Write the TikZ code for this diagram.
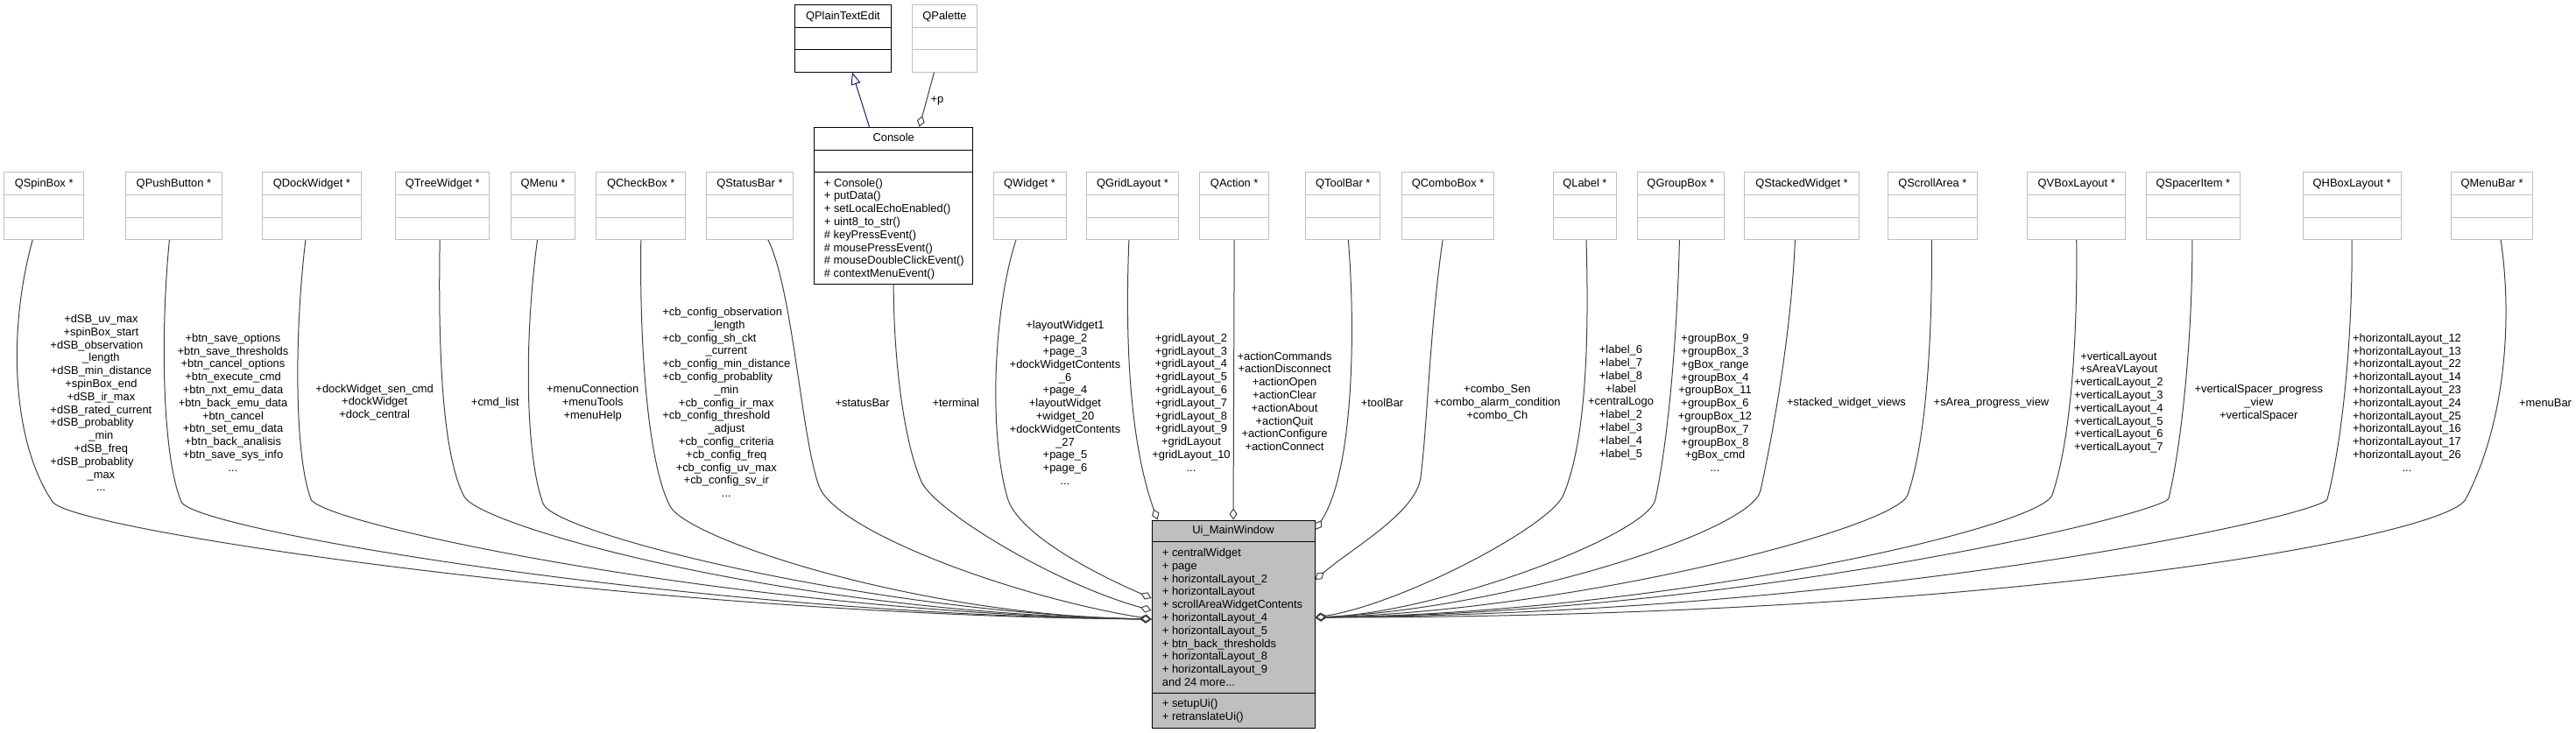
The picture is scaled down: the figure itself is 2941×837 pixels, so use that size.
\documentclass[tikz,border=0pt]{standalone}
\usepackage{fontspec}
\setmainfont{Liberation Sans}
\usepackage{tikz}
\usetikzlibrary{arrows.meta}
\definecolor{boxgray}{HTML}{BFBFBF}
\definecolor{edgegray}{HTML}{404040}
\definecolor{uigray}{HTML}{BFBFBF}
\definecolor{navyline}{HTML}{191970}
\newcommand{\leftln}[1]{\multicolumn{1}{@{}l@{}}{#1}}
\tikzstyle{qclass}  = [draw=boxgray, line width=1pt, inner xsep=0pt, inner ysep=0pt, text height=16.8pt, text depth=59.7pt,
                       path picture={\draw[boxgray, line width=1pt] ([yshift=-25.5pt]path picture bounding box.north west) -- ([yshift=-25.5pt]path picture bounding box.north east)
                                     ([yshift=25.5pt]path picture bounding box.south west) -- ([yshift=25.5pt]path picture bounding box.south east);}]
\tikzstyle{dclass}  = [draw=black, line width=1pt, inner xsep=0pt, inner ysep=0pt, text height=16.4pt, text depth=59.9pt,
                       path picture={\draw[black, line width=1pt] ([yshift=-25.5pt]path picture bounding box.north west) -- ([yshift=-25.5pt]path picture bounding box.north east)
                                     ([yshift=25.5pt]path picture bounding box.south west) -- ([yshift=25.5pt]path picture bounding box.south east);}]
\tikzstyle{members} = [inner sep=0pt, anchor=north west]
\tikzstyle{lbl}     = [inner sep=0pt]
\tikzstyle{agg}     = [draw=edgegray, line width=1pt, -{Diamond[open, length=13pt, width=9pt]}]
\tikzstyle{inherit} = [draw=navyline, line width=1pt, -{Triangle[open, length=14pt, width=11pt]}]

\begin{document}
\begin{tikzpicture}[x=1pt, y=-1pt, font=\fontsize{12.9}{14.8}\selectfont]
	\useasboundingbox (0,0) rectangle (2941,837);

	% top row of classes
	\node[dclass, minimum width=109.3] (plaintext) at (962.4,43.9) {QPlainTextEdit};
	\node[qclass, minimum width=73.7] (palette) at (1078.5,43.9) {QPalette};

	\node[draw=black, line width=1pt, inner xsep=0pt, inner ysep=0pt, minimum width=181.3, text height=16.6pt, text depth=162.4pt] (console) at (1020.2,234.8) {Console};
	\draw[line width=1pt] ([yshift=-26.4pt]console.north west) -- ([yshift=-26.4pt]console.north east);
	\draw[line width=1pt] ([yshift=-51.4pt]console.north west) -- ([yshift=-51.4pt]console.north east);
	\node[members] (consolem) at (940.7,202.6) {\begin{tabular}{@{}l@{}}
		+ Console()\\ + putData()\\ + setLocalEchoEnabled()\\ + uint8\_to\_str()\\
		\# keyPressEvent()\\ \# mousePressEvent()\\ \# mouseDoubleClickEvent()\\ \# contextMenuEvent()\end{tabular}};

	% member classes
	\node[qclass, minimum width=91.1] (spinbox) at (50.2,235.25) {QSpinBox *};
	\node[qclass, minimum width=109.8] (pushbutton) at (198.4,235.25) {QPushButton *};
	\node[qclass, minimum width=112.6] (dockwidget) at (355.9,235.25) {QDockWidget *};
	\node[qclass, minimum width=107.1] (treewidget) at (505.2,235.25) {QTreeWidget *};
	\node[qclass, minimum width=73.7] (qmenu) at (620,235.25) {QMenu *};
	\node[qclass, minimum width=101.8] (checkbox) at (731.8,235.25) {QCheckBox *};
	\node[qclass, minimum width=99.1] (statusbar) at (855.9,235.25) {QStatusBar *};
	\node[qclass, minimum width=83] (widget) at (1175.5,235.25) {QWidget *};
	\node[qclass, minimum width=104.4] (gridlayout) at (1292.9,235.25) {QGridLayout *};
	\node[qclass, minimum width=79.1] (action) at (1409.2,235.25) {QAction *};
	\node[qclass, minimum width=85.3] (toolbar) at (1533.3,235.25) {QToolBar *};
	\node[qclass, minimum width=105.4] (combobox) at (1653.1,235.25) {QComboBox *};
	\node[qclass, minimum width=72.3] (qlabel) at (1809.4,235.25) {QLabel *};
	\node[qclass, minimum width=99.2] (groupbox) at (1918.8,235.25) {QGroupBox *};
	\node[qclass, minimum width=130.8] (stackedwidget) at (2057,235.25) {QStackedWidget *};
	\node[qclass, minimum width=101.6] (scrollarea) at (2206.4,235.25) {QScrollArea *};
	\node[qclass, minimum width=111.6] (vboxlayout) at (2370.7,235.25) {QVBoxLayout *};
	\node[qclass, minimum width=106.9] (spaceritem) at (2503.9,235.25) {QSpacerItem *};
	\node[qclass, minimum width=112.2] (hboxlayout) at (2685.1,235.25) {QHBoxLayout *};
	\node[qclass, minimum width=93.6] (menubar) at (2845.1,235.25) {QMenuBar *};

	% main window
	\node[draw=black, fill=uigray, line width=1pt, inner xsep=0pt, inner ysep=0pt, minimum width=186, text height=15.6pt, text depth=221.4pt] (ui) at (1408,712.5) {Ui\_MainWindow};
	\draw[line width=1pt] ([yshift=-25pt]ui.north west) -- ([yshift=-25pt]ui.north east);
	\draw[line width=1pt] ([yshift=40pt]ui.south west) -- ([yshift=40pt]ui.south east);
	\node[members] (uiattr) at (1326.7,625) {\begin{tabular}{@{}l@{}}
		+ centralWidget\\ + page\\ + horizontalLayout\_2\\ + horizontalLayout\\ + scrollAreaWidgetContents\\
		+ horizontalLayout\_4\\ + horizontalLayout\_5\\ + btn\_back\_thresholds\\ + horizontalLayout\_8\\
		+ horizontalLayout\_9\\ and 24 more...\end{tabular}};
	\node[members] (uimeth) at (1326.7,797) {\begin{tabular}{@{}l@{}}+ setupUi()\\ + retranslateUi()\end{tabular}};

	\coordinate (uiwa) at ([yshift=5.5pt]ui.west);
	\coordinate (uiwb) at ([yshift=15.5pt]ui.west);
	\coordinate (uiwc) at ([yshift=29.5pt]ui.west);
	\coordinate (uiea) at ([yshift=7.5pt]ui.east);
	\coordinate (uieb) at ([yshift=50.5pt]ui.east);
	\coordinate (uiec) at ([yshift=107.5pt]ui.east);
	\coordinate (uint) at ([xshift=7pt]ui.north west);

	% console links
	\draw[inherit] ([xshift=-27.7pt]console.north) -- ([xshift=10.5pt]plaintext.south);
	\draw[agg] ([xshift=-12pt]palette.south) -- ([xshift=29.4pt]console.north);
	\node[lbl] (plbl) at (1070,115) {+p};

	% left members
	\draw[agg] ([xshift=-13pt]spinbox.south) .. controls (8,380) and (14,505) .. (60,573) .. controls (83,607) and (750,703) .. (uiwa);
	\draw[agg] ([xshift=-5pt]pushbutton.south) .. controls (183,380) and (185,520) .. (207,573) .. controls (221,606) and (800,702) .. (uiwa);
	\draw[agg] ([xshift=-7pt]dockwidget.south) .. controls (336,380) and (336,520) .. (355,570) .. controls (366,599) and (850,700) .. (uiwa);
	\draw[agg] ([xshift=-3pt]treewidget.south) .. controls (500,400) and (505,520) .. (530,567) .. controls (548,601) and (900,700) .. (uiwa);
	\draw[agg] ([xshift=-6.5pt]qmenu.south) .. controls (598,390) and (600,520) .. (620,575) .. controls (633,610) and (1000,700) .. (uiwa);
	\draw[agg] (checkbox.south) .. controls (730,400) and (740,530) .. (765,578) .. controls (785,616) and (1050,703) .. (uiwa);
	\draw[agg] ([xshift=21pt]statusbar.south) .. controls (905,330) and (915,500) .. (935,555) .. controls (953,605) and (1150,680) .. (uiwa);
	\draw[agg] (console.south) .. controls (1020,400) and (1030,500) .. (1052,550) .. controls (1066,582) and (1200,665) .. (uiwb);
	\draw[agg] ([xshift=-15.5pt]widget.south) .. controls (1135,350) and (1128,490) .. (1150,568) .. controls (1162,610) and (1250,655) .. (uiwc);
	\draw[agg] ([xshift=-4pt]gridlayout.south) .. controls (1283,420) and (1295,520) .. (uint);
	\draw[agg] (action.south) -- (ui.north);

	% right members
	\draw[agg] ([xshift=6pt]toolbar.south) .. controls (1548,380) and (1545,540) .. (uiec);
	\draw[agg] ([xshift=-6pt]combobox.south) .. controls (1632,380) and (1630,480) .. (1622,545) .. controls (1617,585) and (1545,625) .. (uieb);
	\draw[agg] ([xshift=1.6pt]qlabel.south) .. controls (1814,380) and (1812,500) .. (1785,565) .. controls (1770,601) and (1600,690) .. (uiea);
	\draw[agg] ([xshift=-1.4pt]groupbox.south) .. controls (1915,380) and (1905,500) .. (1890,570) .. controls (1881,612) and (1640,700) .. (uiea);
	\draw[agg] ([xshift=-7.6pt]stackedwidget.south) .. controls (2045,380) and (2025,490) .. (2010,560) .. controls (2000,607) and (1720,695) .. (uiea);
	\draw[agg] ([xshift=-1pt]scrollarea.south) .. controls (2206,380) and (2200,500) .. (2178,565) .. controls (2165,603) and (1800,697) .. (uiea);
	\draw[agg] (vboxlayout.south) .. controls (2372,380) and (2365,500) .. (2343,565) .. controls (2330,603) and (1900,700) .. (uiea);
	\draw[agg] ([xshift=-1pt]spaceritem.south) .. controls (2503,380) and (2492,500) .. (2476,569) .. controls (2472,586) and (2000,700) .. (uiea);
	\draw[agg] (hboxlayout.south) .. controls (2686,380) and (2675,500) .. (2657,570) .. controls (2652,588) and (2150,700) .. (uiea);
	\draw[agg] ([xshift=10pt]menubar.south) .. controls (2868,360) and (2862,480) .. (2815,570) .. controls (2793,612) and (2300,705) .. (uiea);

	% edge labels
	\node[lbl] (spinlbl) at (115.4,461.7) {\begin{tabular}{@{}c@{}}+dSB\_uv\_max\\ +spinBox\_start\\ \leftln{+dSB\_observation}\\ \_length\\ +dSB\_min\_distance\\ +spinBox\_end\\ +dSB\_ir\_max\\ +dSB\_rated\_current\\ \leftln{+dSB\_probablity}\\ \_min\\ +dSB\_freq\\ \leftln{+dSB\_probablity}\\ \_max\\ ...\end{tabular}};
	\node[lbl] (pushlbl) at (266,461.3) {\begin{tabular}{@{}c@{}}+btn\_save\_options\\ +btn\_save\_thresholds\\ +btn\_cancel\_options\\ +btn\_execute\_cmd\\ +btn\_nxt\_emu\_data\\ +btn\_back\_emu\_data\\ +btn\_cancel\\ +btn\_set\_emu\_data\\ +btn\_back\_analisis\\ +btn\_save\_sys\_info\\ ...\end{tabular}};
	\node[lbl] (docklbl) at (427.7,460) {\begin{tabular}{@{}c@{}}+dockWidget\_sen\_cmd\\ +dockWidget\\ +dock\_central\end{tabular}};
	\node[lbl] (treelbl) at (565.4,460.3) {+cmd\_list};
	\node[lbl] (menulbl) at (676.7,460.3) {\begin{tabular}{@{}c@{}}+menuConnection\\ +menuTools\\ +menuHelp\end{tabular}};
	\node[lbl] (checklbl) at (829.3,461.2) {\begin{tabular}{@{}c@{}}\leftln{+cb\_config\_observation}\\ \_length\\ \leftln{+cb\_config\_sh\_ckt}\\ \_current\\ +cb\_config\_min\_distance\\ \leftln{+cb\_config\_probablity}\\ \_min\\ +cb\_config\_ir\_max\\ \leftln{+cb\_config\_threshold}\\ \_adjust\\ +cb\_config\_criteria\\ +cb\_config\_freq\\ +cb\_config\_uv\_max\\ +cb\_config\_sv\_ir\\ ...\end{tabular}};
	\node[lbl] (statuslbl) at (984.6,460.3) {+statusBar};
	\node[lbl] (consolelbl) at (1091.2,460) {+terminal};
	\node[lbl] (widgetlbl) at (1216,461.7) {\begin{tabular}{@{}c@{}}+layoutWidget1\\ +page\_2\\ +page\_3\\ \leftln{+dockWidgetContents}\\ \_6\\ +page\_4\\ +layoutWidget\\ +widget\_20\\ \leftln{+dockWidgetContents}\\ \_27\\ +page\_5\\ +page\_6\\ ...\end{tabular}};
	\node[lbl] (gridlbl) at (1360,461.3) {\begin{tabular}{@{}c@{}}+gridLayout\_2\\ +gridLayout\_3\\ +gridLayout\_4\\ +gridLayout\_5\\ +gridLayout\_6\\ +gridLayout\_7\\ +gridLayout\_8\\ +gridLayout\_9\\ +gridLayout\\ +gridLayout\_10\\ ...\end{tabular}};
	\node[lbl] (actionlbl) at (1466.5,460) {\begin{tabular}{@{}c@{}}+actionCommands\\ +actionDisconnect\\ +actionOpen\\ +actionClear\\ +actionAbout\\ +actionQuit\\ +actionConfigure\\ +actionConnect\end{tabular}};
	\node[lbl] (toollbl) at (1578,460.3) {+toolBar};
	\node[lbl] (combolbl) at (1709.4,460.3) {\begin{tabular}{@{}c@{}}+combo\_Sen\\ +combo\_alarm\_condition\\ +combo\_Ch\end{tabular}};
	\node[lbl] (labellbl) at (1850.5,460) {\begin{tabular}{@{}c@{}}+label\_6\\ +label\_7\\ +label\_8\\ +label\\ +centralLogo\\ +label\_2\\ +label\_3\\ +label\_4\\ +label\_5\end{tabular}};
	\node[lbl] (grouplbl) at (1958,461.7) {\begin{tabular}{@{}c@{}}+groupBox\_9\\ +groupBox\_3\\ +gBox\_range\\ +groupBox\_4\\ +groupBox\_11\\ +groupBox\_6\\ +groupBox\_12\\ +groupBox\_7\\ +groupBox\_8\\ +gBox\_cmd\\ ...\end{tabular}};
	\node[lbl] (stackedlbl) at (2108,460.3) {+stacked\_widget\_views};
	\node[lbl] (scrolllbl) at (2273.5,460) {+sArea\_progress\_view};
	\node[lbl] (vboxlbl) at (2418.8,460) {\begin{tabular}{@{}c@{}}+verticalLayout\\ +sAreaVLayout\\ +verticalLayout\_2\\ +verticalLayout\_3\\ +verticalLayout\_4\\ +verticalLayout\_5\\ +verticalLayout\_6\\ +verticalLayout\_7\end{tabular}};
	\node[lbl] (spacerlbl) at (2578.8,460.3) {\begin{tabular}{@{}c@{}}\leftln{+verticalSpacer\_progress}\\ \_view\\ +verticalSpacer\end{tabular}};
	\node[lbl] (hboxlbl) at (2748,461.3) {\begin{tabular}{@{}c@{}}+horizontalLayout\_12\\ +horizontalLayout\_13\\ +horizontalLayout\_22\\ +horizontalLayout\_14\\ +horizontalLayout\_23\\ +horizontalLayout\_24\\ +horizontalLayout\_25\\ +horizontalLayout\_16\\ +horizontalLayout\_17\\ +horizontalLayout\_26\\ ...\end{tabular}};
	\node[lbl] (menubarlbl) at (2906,460) {+menuBar};
\end{tikzpicture}
\end{document}
